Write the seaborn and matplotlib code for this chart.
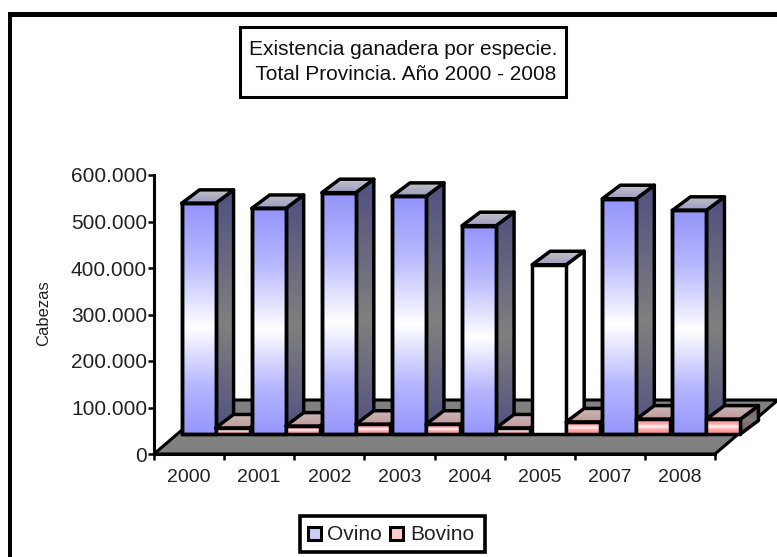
import numpy as np
import pandas as pd
import matplotlib
matplotlib.use("Agg")
import matplotlib.pyplot as plt
from matplotlib.colors import LinearSegmentedColormap
from matplotlib.patches import Polygon, Rectangle
from matplotlib.transforms import Affine2D
import seaborn as sns

years = ["2000", "2001", "2002", "2003", "2004", "2005", "2007", "2008"]
ovino = [496000, 485000, 519000, 511000, 448000, 364000, 506000, 481000]
bovino = [13000, 17000, 21000, 21000, 13000, 26000, 32000, 32000]
y_ticks = [0, 100000, 200000, 300000, 400000, 500000, 600000]
y_labels = ["0", "100.000", "200.000", "300.000", "400.000", "500.000", "600.000"]
title_text = "Existencia ganadera por especie.\n Total Provincia. Año 2000 - 2008"

W, H = 777, 557
sns.set_theme(style="white")
plt.rcParams["font.family"] = ["Liberation Sans", "DejaVu Sans"]
fig = plt.figure(figsize=(W / 100, H / 100), dpi=100)
ax = fig.add_axes([154 / W, 1 - 454 / H, 561 / W, 279 / H])

df = pd.DataFrame({
    "Año": years * 2,
    "Cabezas": ovino + bovino,
    "Especie": ["Ovino"] * len(years) + ["Bovino"] * len(years),
})
EDGE = 2.5
sns.barplot(data=df, x="Año", y="Cabezas", hue="Especie", order=years,
            hue_order=["Ovino", "Bovino"], width=0.97, gap=0, dodge=True,
            palette={"Ovino": "#9999ff", "Bovino": "#ff9999"},
            edgecolor="black", linewidth=EDGE, ax=ax, legend=False, errorbar=None)
ax.set_xlim(-0.5, 7.5)
ax.set_ylim(0, 600000)

# pseudo-3D geometry, in pixels
BAR_SHIFT = np.array([26.5, 20.0])
BAR_DEPTH = np.array([18.0, 13.5])
FLOOR_DEPTH = np.array([63.0, 54.0])
shift_tf = Affine2D().translate(*BAR_SHIFT)

def grad(stops):
    return LinearSegmentedColormap.from_list("g", stops)

cm_front = {"Ovino": grad([(0, "#9797fc"), (0.2, "#b4b4ff"), (0.46, "#ffffff"), (0.75, "#b8b8ff"), (1, "#9494fa")]),
            "Bovino": grad([(0, "#ff8888"), (0.3, "#ffa8a8"), (0.5, "#fff4f4"), (0.7, "#ffa8a8"), (1, "#ff8888")])}
cm_side = {"Ovino": grad([(0, "#50507f"), (0.45, "#808080"), (1, "#50507f")]),
           "Bovino": grad(["#7f5050", "#808080", "#7f5050"])}
cm_top = {"Ovino": grad(["#9a9ac4", "#c4c4c4"]),
          "Bovino": grad(["#c49a9a", "#c8b8b8"])}
ramp = np.linspace(0, 1, 128)[:, None]

def poly(points, z, face="none", lw=EDGE):
    p = Polygon(points, closed=True, facecolor=face, edgecolor="black", lw=lw,
                transform=None, zorder=z, clip_on=False, joinstyle="round")
    p.set_transform(Affine2D())
    ax.add_artist(p)
    return p

def shaded(points, cmap, z):
    pts = np.asarray(points)
    x0, y0 = pts.min(axis=0)
    x1, y1 = pts.max(axis=0)
    inv = ax.transData.inverted()
    (a, b), (c, d) = inv.transform([(x0, y0), (x1, y1)])
    im = ax.imshow(ramp, cmap=cmap, extent=(a, c, b, d), aspect="auto",
                   zorder=z, origin="lower")
    im.set_clip_box(fig.bbox)
    im.set_clip_path(Polygon(pts, closed=True, transform=Affine2D()))
    poly(pts, z + 0.01)

# floor
fig.canvas.draw()
to_px = ax.transData.transform
fl, fb = to_px((-0.5, 0)), to_px((7.5, 0))
poly([fl, fb, fb + FLOOR_DEPTH, fl + FLOOR_DEPTH], 1, "#808080", 2.2)

bars = list(ax.patches)
n = len(years)
for s, (name, vals) in enumerate([("Ovino", ovino), ("Bovino", bovino)]):
    for i in range(n):
        bar = bars[s * n + i]
        z = 2 + i * 2 + s
        x0, w, h = bar.get_x(), bar.get_width(), bar.get_height()
        a = to_px((x0, 0)) + BAR_SHIFT
        b = to_px((x0 + w, 0)) + BAR_SHIFT
        c = to_px((x0 + w, h)) + BAR_SHIFT
        d = to_px((x0, h)) + BAR_SHIFT
        missing = years[i] == "2005" and name == "Ovino"
        if missing:
            poly([b, b + BAR_DEPTH, c + BAR_DEPTH, c], z, "white")
        else:
            shaded([b, b + BAR_DEPTH, c + BAR_DEPTH, c], cm_side[name], z)
        shaded([d, c, c + BAR_DEPTH, d + BAR_DEPTH], cm_top[name], z + 0.1)
        bar.set_transform(ax.transData + shift_tf)
        bar.set_clip_on(False)
        bar.set_zorder(z + 0.3)
        bar.set_linewidth(EDGE if name == "Ovino" else 2.0)
        if missing:
            bar.set_facecolor("white")
        else:
            bar.set_facecolor("none")
            shaded([a, b, c, d], cm_front[name], z + 0.2)
ax.set_xlim(-0.5, 7.5)
ax.set_ylim(0, 600000)

# axes furniture
for sp in ("top", "right"):
    ax.spines[sp].set_visible(False)
for sp in ("left", "bottom"):
    ax.spines[sp].set_linewidth(2.2)
    ax.spines[sp].set_color("black")
    ax.spines[sp].set_zorder(30)
ax.set_yticks(y_ticks, y_labels)
ax.set_xticks(range(n), years)
ax.set_xticks(np.arange(-0.5, n), minor=True)
ax.tick_params(axis="x", which="major", length=0, pad=11, labelsize=14, labelcolor="#222222")
ax.tick_params(axis="x", which="minor", bottom=True, length=4, width=1.8, color="black", direction="out")
ax.tick_params(axis="y", left=True, length=4, width=1.8, color="black", pad=1, labelsize=15, labelcolor="#222222")
ax.set_xlabel("")
ax.set_ylabel("")
fig.text(44 / W, 1 - 313 / H, "Cabezas", rotation=90, ha="center", va="center", fontsize=12, color="#222222")

# frame (top and left only) and boxes
fig.add_artist(Rectangle((8 / W, 0), 4 / W, 1 - 12 / H, transform=fig.transFigure, color="black", lw=0))
fig.add_artist(Rectangle((8 / W, 1 - 17 / H), 1 - 8 / W, 5 / H, transform=fig.transFigure, color="black", lw=0))
fig.add_artist(Rectangle((240 / W, 1 - 97 / H), 326 / W, 70 / H, transform=fig.transFigure,
                         facecolor="white", edgecolor="black", lw=2.2))
fig.text(403 / W, 1 - 62 / H, title_text, ha="center", va="center", fontsize=15, linespacing=1.4, color="#111111")

fig.add_artist(Rectangle((300 / W, 1 - 552 / H), 185 / W, 36 / H, transform=fig.transFigure,
                         facecolor="white", edgecolor="black", lw=2.6))
lx = [(308, "#ccccff", "Ovino", 327), (390, "#ffcccc", "Bovino", 410)]
for px, col, label, tx in lx:
    fig.add_artist(Rectangle((px / W, 1 - 540 / H), 13 / W, 13 / H, transform=fig.transFigure,
                             facecolor=col, edgecolor="black", lw=2.2))
    fig.text(tx / W, 1 - 534 / H, label, ha="left", va="center", fontsize=15, color="#222222")

fig.savefig("out.png", dpi=100)
